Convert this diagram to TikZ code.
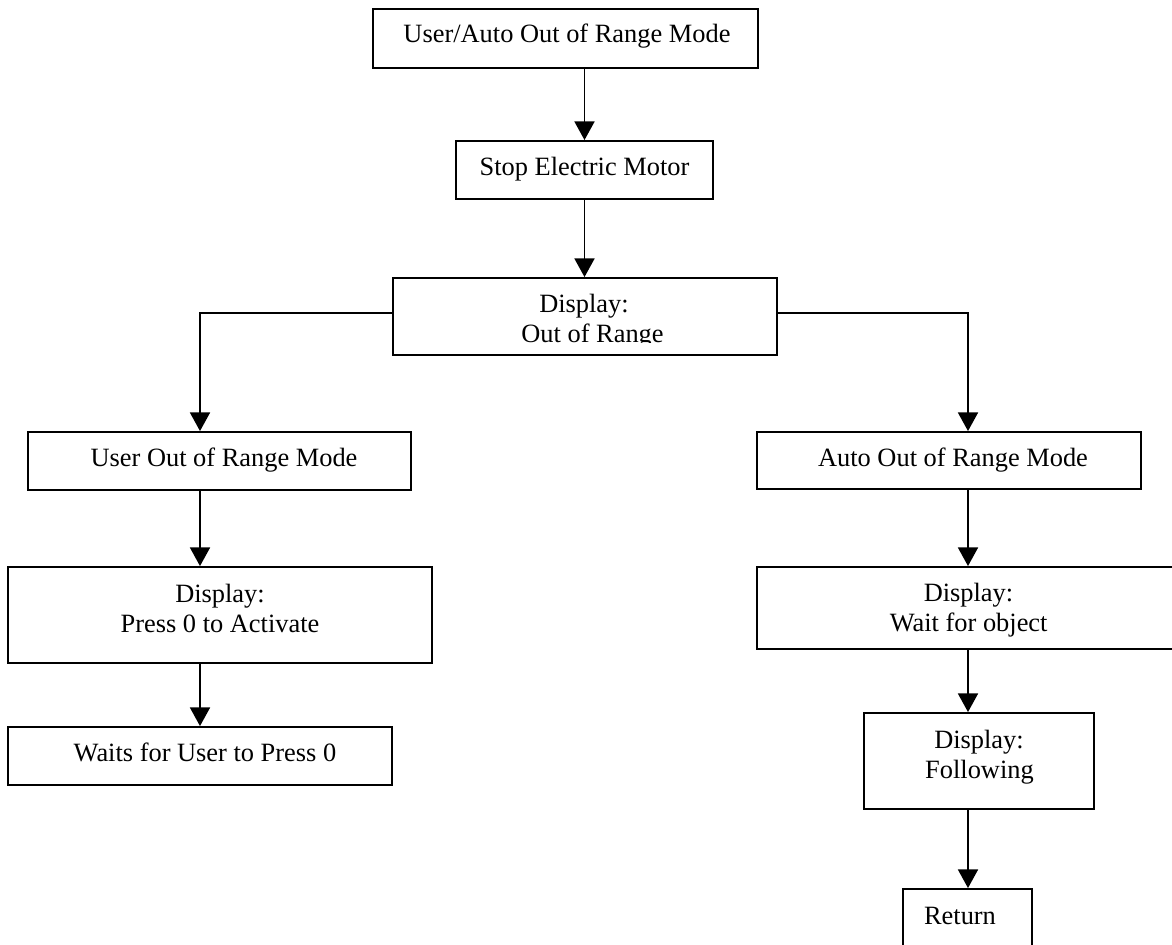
\documentclass[tikz,border=0pt]{standalone}
\usepackage{fontspec}
\setmainfont{Liberation Serif}
\usetikzlibrary{arrows.meta,fit}
\begin{document}
\begin{tikzpicture}[x=0.75pt,y=-0.75pt,
  box/.style={draw=black, line width=1.4pt, inner sep=0pt, rectangle},
  txt/.style={inner sep=0pt, anchor=base, font=\fontsize{19.8pt}{22.5pt}\selectfont},
  arr/.style={draw=black, line width=1.4pt, -{Triangle[length=14pt,width=15pt]}}]
\useasboundingbox (0,0) rectangle (1172,945);
\clip (0,0) rectangle (1172,945);
% boxes
\node[box, fit={(373,9)(758,68)}] (b1) {};
\node[box, fit={(456,141)(713,199)}] (b2) {};
\node[box, fit={(393,278)(777,355)}] (b3) {};
\node[box, fit={(28,432)(411,490)}] (b4) {};
\node[box, fit={(757,432)(1141,489)}] (b5) {};
\node[box, fit={(8,567)(432,663)}] (b6) {};
\node[box, fit={(757,567)(1181,649)}] (b7) {};
\node[box, fit={(8,727)(392,785)}] (b8) {};
\node[box, fit={(864,713)(1094,809)}] (b9) {};
\node[box, fit={(903,889)(1032,960)}] (b10) {};
% texts
\node[txt] (t1) at (567,43) {User/Auto Out of Range Mode};
\node[txt] (t2) at (584.5,176) {Stop Electric Motor};
\node[txt] (t3a) at (584,313) {Display:};
\begin{scope}
\clip (393,278) rectangle (777,342.5);
\node[txt] (t3b) at (592.5,342.5) {Out of Range};
\end{scope}
\node[txt] (t4) at (224,466) {User Out of Range Mode};
\node[txt] (t5) at (953,466) {Auto Out of Range Mode};
\node[txt] (t6a) at (220,602) {Display:};
\node[txt] (t6b) at (220,632) {Press 0 to Activate};
\node[txt] (t7a) at (968.5,601) {Display:};
\node[txt] (t7b) at (968.7,631) {Wait for object};
\node[txt] (t8) at (205,761) {Waits for User to Press 0};
\node[txt] (t9a) at (979,748) {Display:};
\node[txt] (t9b) at (979.5,778) {Following};
\node[txt] (t10) at (960,924) {Return};
% connectors
\coordinate (lj) at (200,313);
\coordinate (rj) at (968,313);
\draw[arr] (b2.north |- b1.south) -- (b2.north);
\draw[arr] (b2.south) -- (b2.south |- b3.north);
\draw[arr] (b3.west |- lj) -- (lj) -- (lj |- b4.north);
\draw[arr] (b3.east |- rj) -- (rj) -- (rj |- b5.north);
\draw[arr] (lj |- b4.south) -- (lj |- b6.north);
\draw[arr] (lj |- b6.south) -- (lj |- b8.north);
\draw[arr] (rj |- b5.south) -- (rj |- b7.north);
\draw[arr] (rj |- b7.south) -- (rj |- b9.north);
\draw[arr] (rj |- b9.south) -- (rj |- b10.north);
\end{tikzpicture}
\end{document}
